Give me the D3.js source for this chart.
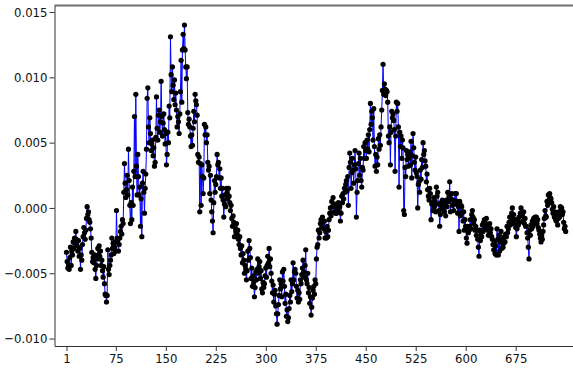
<!DOCTYPE html>
<html>
<head>
<meta charset="utf-8">
<script src="https://cdn.jsdelivr.net/npm/d3@7"></script>
<style>
  body { margin: 0; background: #fff; }
  text { font-family: "DejaVu Sans Condensed", "DejaVu Sans", Verdana, sans-serif; }
</style>
</head>
<body>
<div id="wrapper"></div>
<script>
// series values, one per observation (index starts at 1)
const values = [
  -0.0034,-0.0041,-0.0046,-0.0044,-0.0047,-0.0038,-0.0030,-0.0044,-0.0033,-0.0036,-0.0026,-0.0031,-0.0023,-0.0027,-0.0018,
  -0.0024,-0.0029,-0.0033,-0.0025,-0.0037,-0.0031,-0.0047,-0.0036,-0.0040,-0.0028,-0.0022,-0.0015,-0.0019,-0.0024,-0.0017,
  -0.0008,0.0001,-0.0005,-0.0003,-0.0009,-0.0011,-0.0016,-0.0023,-0.0034,-0.0041,-0.0038,-0.0042,-0.0036,-0.0047,-0.0054,
  -0.0044,-0.0039,-0.0031,-0.0036,-0.0029,-0.0037,-0.0033,-0.0044,-0.0040,-0.0048,-0.0053,-0.0045,-0.0058,-0.0066,-0.0067,
  -0.0072,-0.0067,-0.0032,-0.0047,-0.0051,-0.0044,-0.0040,-0.0036,-0.0023,-0.0031,-0.0027,-0.0035,-0.0030,-0.0026,-0.0033,
  -0.0002,-0.0023,-0.0026,-0.0033,-0.0028,-0.0023,-0.0018,-0.0014,-0.0020,-0.0009,-0.0012,0.0012,0.0034,0.0019,0.0008,
  0.0014,0.0025,0.0010,0.0045,0.0021,0.0002,-0.0012,0.0004,-0.0009,0.0016,0.0002,0.0028,0.0070,0.0024,0.0087,
  0.0032,0.0010,0.0041,0.0024,0.0010,0.0016,-0.0014,0.0007,-0.0022,0.0019,0.0028,0.0012,-0.0004,0.0015,0.0026,
  0.0045,0.0084,0.0092,0.0062,0.0050,0.0069,0.0057,0.0044,0.0049,0.0052,0.0040,0.0046,0.0032,0.0035,0.0054,
  0.0085,0.0061,0.0052,0.0071,0.0075,0.0058,0.0066,0.0097,0.0070,0.0055,0.0065,0.0072,0.0060,0.0049,0.0057,
  0.0033,0.0041,0.0058,0.0050,0.0078,0.0069,0.0131,0.0102,0.0089,0.0108,0.0094,0.0083,0.0098,0.0079,0.0088,
  0.0075,0.0062,0.0070,0.0066,0.0057,0.0072,0.0089,0.0113,0.0081,0.0121,0.0133,0.0122,0.0140,0.0121,0.0108,
  0.0099,0.0108,0.0073,0.0064,0.0068,0.0062,0.0055,0.0047,0.0056,0.0048,0.0061,0.0074,0.0066,0.0087,0.0082,
  0.0079,0.0071,0.0041,0.0035,0.0039,-0.0003,0.0034,0.0002,0.0033,0.0024,0.0011,0.0023,0.0064,0.0056,0.0062,
  0.0050,0.0056,0.0035,0.0029,0.0032,0.0011,0.0025,0.0006,-0.0003,-0.0010,-0.0019,0.0004,0.0021,0.0012,0.0018,
  0.0024,0.0041,0.0033,0.0035,0.0023,0.0030,0.0015,0.0023,0.0009,0.0015,0.0006,-0.0007,0.0003,0.0010,0.0001,
  0.0015,0.0012,0.0007,0.0015,0.0009,0.0004,-0.0002,0.0002,-0.0008,-0.0014,-0.0006,-0.0011,-0.0022,-0.0015,-0.0018,
  -0.0012,-0.0020,-0.0017,-0.0024,-0.0028,-0.0022,-0.0031,-0.0036,-0.0029,-0.0042,-0.0035,-0.0040,-0.0050,-0.0044,-0.0047,
  -0.0055,-0.0048,-0.0033,-0.0040,-0.0025,-0.0031,-0.0038,-0.0054,-0.0046,-0.0060,-0.0052,-0.0057,-0.0068,-0.0061,-0.0049,
  -0.0055,-0.0047,-0.0039,-0.0050,-0.0045,-0.0041,-0.0054,-0.0048,-0.0062,-0.0065,-0.0057,-0.0061,-0.0058,-0.0052,-0.0046,
  -0.0053,-0.0044,-0.0037,-0.0042,-0.0031,-0.0045,-0.0039,-0.0050,-0.0056,-0.0065,-0.0059,-0.0072,-0.0066,-0.0063,-0.0075,
  -0.0081,-0.0089,-0.0081,-0.0074,-0.0067,-0.0055,-0.0062,-0.0058,-0.0068,-0.0049,-0.0056,-0.0047,-0.0060,-0.0073,-0.0066,
  -0.0083,-0.0078,-0.0087,-0.0084,-0.0077,-0.0067,-0.0072,-0.0055,-0.0064,-0.0058,-0.0042,-0.0055,-0.0049,-0.0047,-0.0050,
  -0.0060,-0.0069,-0.0063,-0.0072,-0.0065,-0.0070,-0.0055,-0.0058,-0.0051,-0.0046,-0.0040,-0.0049,-0.0053,-0.0044,-0.0032,
  -0.0055,-0.0058,-0.0050,-0.0065,-0.0061,-0.0073,-0.0068,-0.0082,-0.0076,-0.0069,-0.0063,-0.0060,-0.0066,-0.0055,-0.0058,
  -0.0039,-0.0030,-0.0028,-0.0017,-0.0023,-0.0019,-0.0012,-0.0009,-0.0015,-0.0007,-0.0011,-0.0016,-0.0010,-0.0023,-0.0018,
  -0.0023,-0.0014,-0.0022,-0.0017,-0.0009,-0.0004,0.0000,-0.0006,0.0005,0.0001,0.0008,0.0002,-0.0003,0.0003,-0.0004,
  -0.0004,0.0002,0.0000,0.0004,-0.0003,0.0001,-0.0010,-0.0004,0.0009,0.0004,0.0011,0.0007,0.0015,0.0012,0.0018,
  0.0021,0.0013,0.0024,0.0002,0.0031,0.0042,0.0035,0.0015,0.0027,0.0038,0.0029,0.0019,0.0033,0.0044,0.0030,
  -0.0007,0.0012,0.0021,0.0034,0.0042,0.0025,0.0038,0.0021,0.0016,0.0031,0.0029,0.0047,0.0038,0.0050,0.0044,
  0.0038,0.0052,0.0045,0.0056,0.0043,0.0060,0.0080,0.0064,0.0074,0.0069,0.0052,0.0076,0.0047,0.0032,0.0041,
  0.0028,0.0039,0.0033,0.0053,0.0045,0.0056,0.0048,0.0062,0.0075,0.0090,0.0110,0.0087,0.0095,0.0091,0.0086,
  0.0090,0.0089,0.0081,0.0055,0.0050,0.0062,0.0033,0.0058,0.0074,0.0069,0.0072,0.0067,0.0060,0.0028,0.0055,
  0.0081,0.0074,0.0080,0.0062,0.0016,0.0058,0.0047,0.0055,0.0038,0.0052,0.0046,-0.0002,-0.0005,0.0031,0.0024,
  0.0044,0.0037,0.0041,0.0032,0.0038,0.0043,0.0033,0.0051,0.0023,0.0040,0.0057,0.0046,0.0035,0.0029,0.0039,
  0.0027,0.0024,0.0000,0.0018,0.0020,0.0012,0.0029,0.0022,0.0037,0.0031,0.0050,0.0041,0.0044,0.0036,0.0032,
  0.0020,0.0026,0.0014,0.0009,0.0006,0.0015,0.0011,-0.0009,0.0003,0.0004,-0.0002,0.0008,0.0001,0.0005,-0.0003,
  0.0016,0.0009,0.0012,0.0003,-0.0002,-0.0014,-0.0005,0.0004,0.0001,0.0006,-0.0001,0.0003,-0.0003,0.0002,-0.0006,
  0.0006,0.0001,0.0012,0.0005,0.0009,0.0020,-0.0003,0.0007,0.0011,0.0002,0.0006,-0.0002,0.0004,0.0011,0.0003,
  0.0011,0.0005,-0.0004,0.0001,-0.0018,0.0005,-0.0006,0.0002,0.0001,-0.0003,-0.0010,-0.0003,-0.0017,-0.0009,-0.0014,
  -0.0023,-0.0027,-0.0014,-0.0019,-0.0017,-0.0014,-0.0009,-0.0016,-0.0005,-0.0002,-0.0007,-0.0012,-0.0009,-0.0017,-0.0014,
  -0.0021,-0.0017,-0.0024,-0.0030,-0.0037,-0.0017,-0.0025,-0.0019,-0.0022,-0.0013,-0.0018,-0.0011,-0.0009,-0.0015,-0.0012,
  -0.0008,-0.0013,-0.0017,-0.0021,-0.0014,-0.0012,-0.0019,-0.0016,-0.0022,-0.0024,-0.0028,-0.0032,-0.0026,-0.0035,-0.0029,
  -0.0036,-0.0016,-0.0024,-0.0036,-0.0021,-0.0033,-0.0026,-0.0018,-0.0031,-0.0024,-0.0030,-0.0027,-0.0022,-0.0026,-0.0020,
  -0.0022,-0.0014,-0.0019,-0.0016,-0.0011,-0.0007,-0.0013,-0.0010,-0.0004,0.0000,-0.0008,-0.0005,-0.0012,-0.0009,-0.0015,
  -0.0022,-0.0016,-0.0009,-0.0013,-0.0007,-0.0011,-0.0004,0.0000,-0.0006,-0.0005,-0.0010,-0.0003,-0.0012,-0.0008,-0.0014,
  -0.0014,-0.0019,-0.0023,-0.0030,-0.0039,-0.0017,-0.0021,-0.0013,-0.0016,-0.0010,-0.0014,-0.0008,-0.0012,-0.0007,-0.0011,
  -0.0007,-0.0012,-0.0009,-0.0015,-0.0017,-0.0020,-0.0023,-0.0026,-0.0021,-0.0024,-0.0018,-0.0013,-0.0008,-0.0002,-0.0006,
  -0.0007,0.0005,0.0002,0.0010,0.0006,0.0011,0.0008,0.0007,0.0004,-0.0001,-0.0004,0.0001,-0.0007,-0.0003,-0.0009,
  -0.0010,-0.0006,-0.0013,-0.0008,-0.0003,-0.0007,0.0001,-0.0002,0.0000,-0.0005,-0.0003,-0.0011,-0.0016,-0.0014,-0.0018
]

// tick values
const xTicks = [1, 75, 150, 225, 300, 375, 450, 525, 600, 675]
const yTicks = [-0.010, -0.005, 0.000, 0.005, 0.010, 0.015]

function drawChart() {
  const dataset = values.map((v, i) => ({ x: i + 1, y: v }))

  // plot area runs off the right edge of the picture
  let dimensions = {
    width: 573,
    height: 370,
    margin: { top: 5.5, right: -4, bottom: 24, left: 54.5 },
  }
  dimensions.boundedWidth = dimensions.width - dimensions.margin.left - dimensions.margin.right
  dimensions.boundedHeight = dimensions.height - dimensions.margin.top - dimensions.margin.bottom

  const wrapper = d3.select("#wrapper")
    .append("svg")
      .attr("width", dimensions.width)
      .attr("height", dimensions.height)

  const bounds = wrapper.append("g")
      .attr("transform", `translate(${dimensions.margin.left}, ${dimensions.margin.top})`)

  const xAccessor = d => d.x
  const yAccessor = d => d.y

  const xScale = d3.scaleLinear()
    .domain([-17, 767])
    .range([0, dimensions.boundedWidth])

  const yScale = d3.scaleLinear()
    .domain([-0.01057, 0.0155])
    .range([dimensions.boundedHeight, 0])

  // top border
  bounds.append("line")
      .attr("x1", 0)
      .attr("x2", dimensions.boundedWidth)
      .attr("y1", 0)
      .attr("y2", 0)
      .attr("stroke", "#6e6e6e")
      .attr("stroke-width", 2)

  // line + markers
  const lineGenerator = d3.line()
    .x(d => xScale(xAccessor(d)))
    .y(d => yScale(yAccessor(d)))

  bounds.append("path")
      .attr("d", lineGenerator(dataset))
      .attr("fill", "none")
      .attr("stroke", "#0000ff")
      .attr("stroke-width", 1)

  bounds.selectAll("circle")
      .data(dataset)
    .enter()
      .append("circle")
        .attr("cx", d => xScale(xAccessor(d)))
        .attr("cy", d => yScale(yAccessor(d)))
        .attr("r", 2.6)
        .attr("fill", "#000")

  // axes
  const yAxis = d3.axisLeft(yScale)
    .tickValues(yTicks)
    .tickFormat(d3.format(".3f"))
    .tickSize(5)
    .tickSizeOuter(0)
    .tickPadding(2)

  const yAxisGroup = bounds.append("g").call(yAxis)

  const xAxis = d3.axisBottom(xScale)
    .tickValues(xTicks)
    .tickFormat(d => d)
    .tickSize(5)
    .tickSizeOuter(0)
    .tickPadding(3)

  const xAxisGroup = bounds.append("g")
      .attr("transform", `translate(0, ${dimensions.boundedHeight})`)
      .call(xAxis)

  for (const g of [xAxisGroup, yAxisGroup]) {
    g.select(".domain").attr("stroke", "#333")
    g.selectAll(".tick line").attr("stroke", "#333")
    g.selectAll(".tick text")
        .attr("fill", "#111")
        .style("font-size", "13px")
  }
}

drawChart()
</script>
</body>
</html>
